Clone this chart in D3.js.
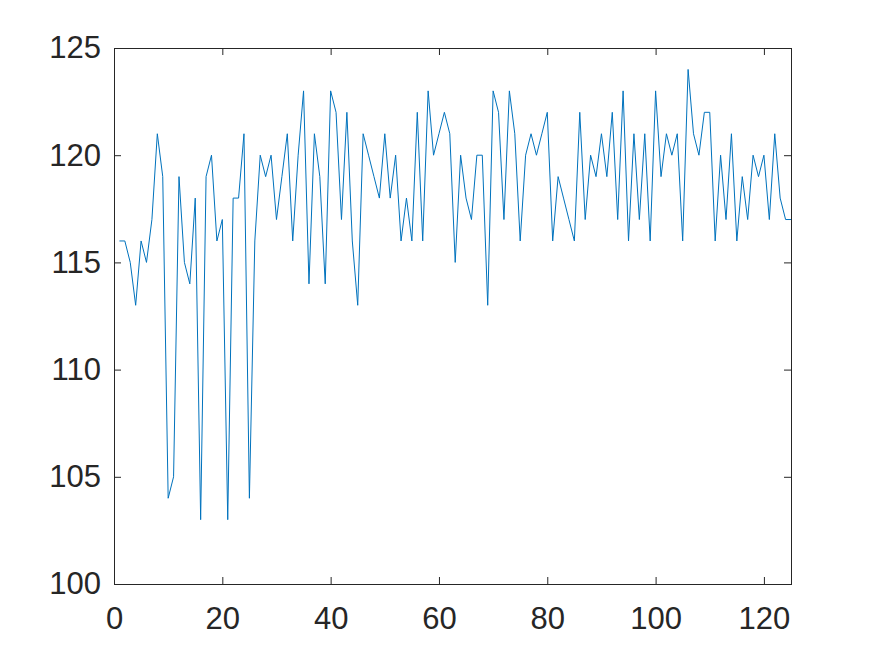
<!DOCTYPE html>
<html>
<head>
<meta charset="utf-8">
<script src="https://cdn.jsdelivr.net/npm/d3@7"></script>
<style>
  html, body { margin: 0; padding: 0; background: #ffffff; }
  svg { display: block; }
</style>
</head>
<body>
<svg id="chart" width="875" height="656"></svg>
<script>
const xValues = d3.range(1, 126);
const yValues = [
  116,116,115,113,116,115,117,121,119,104,
  105,119,115,114,118,103,119,120,116,117,
  103,118,118,121,104,116,120,119,120,117,
  119,121,116,120,123,114,121,119,114,123,
  122,117,122,116,113,121,120,119,118,121,
  118,120,116,118,116,122,116,123,120,121,
  122,121,115,120,118,117,120,120,113,123,
  122,117,123,121,116,120,121,120,121,122,
  116,119,118,117,116,122,117,120,119,121,
  119,122,117,123,116,121,117,121,116,123,
  119,121,120,121,116,124,121,120,122,122,
  116,120,117,121,116,119,117,120,119,120,
  117,121,118,117,117
];
const xTicks = [0, 20, 40, 60, 80, 100, 120];
const yTicks = [100, 105, 110, 115, 120, 125];
const xDomain = [0, 125];
const yDomain = [100, 125];

const mLeft = 114, mRight = 791, mTop = 48, mBottom = 584;
const svg = d3.select("#chart");
const x = d3.scaleLinear().domain(xDomain).range([mLeft, mRight]);
const y = d3.scaleLinear().domain(yDomain).range([mBottom, mTop]);

const axisColor = "#262626";
const font = "'Liberation Sans', Arial, Helvetica, sans-serif";
const tickLen = 7;

function styleAxis(g, showLabels) {
  g.select(".domain").remove();
  g.selectAll(".tick line").attr("stroke", axisColor).attr("stroke-width", 1);
  g.selectAll(".tick text")
    .attr("fill", axisColor)
    .style("font-family", font)
    .style("font-size", "31px");
  if (!showLabels) g.selectAll(".tick text").remove();
}

svg.append("g").attr("transform", `translate(0,${mBottom})`)
  .call(d3.axisBottom(x).tickValues(xTicks).tickSize(-tickLen).tickPadding(23).tickFormat(d3.format("d")))
  .call(g => styleAxis(g, true));
svg.append("g").attr("transform", `translate(0,${mTop})`)
  .call(d3.axisTop(x).tickValues(xTicks).tickSize(-tickLen))
  .call(g => styleAxis(g, false));
svg.append("g").attr("transform", `translate(${mLeft},0)`)
  .call(d3.axisLeft(y).tickValues(yTicks).tickSize(-tickLen).tickPadding(13).tickFormat(d3.format("d")))
  .call(g => styleAxis(g, true));
svg.append("g").attr("transform", `translate(${mRight},0)`)
  .call(d3.axisRight(y).tickValues(yTicks).tickSize(-tickLen))
  .call(g => styleAxis(g, false));

svg.append("rect")
  .attr("x", mLeft).attr("y", mTop)
  .attr("width", mRight - mLeft).attr("height", mBottom - mTop)
  .attr("fill", "none").attr("stroke", axisColor).attr("stroke-width", 1)
  .attr("shape-rendering", "crispEdges");

const line = d3.line().x((d, i) => x(xValues[i])).y(d => y(d));
svg.append("path")
  .datum(yValues)
  .attr("d", line)
  .attr("fill", "none")
  .attr("stroke", "#0072BD")
  .attr("stroke-width", 1)
  .attr("stroke-linejoin", "miter");
</script>
</body>
</html>
